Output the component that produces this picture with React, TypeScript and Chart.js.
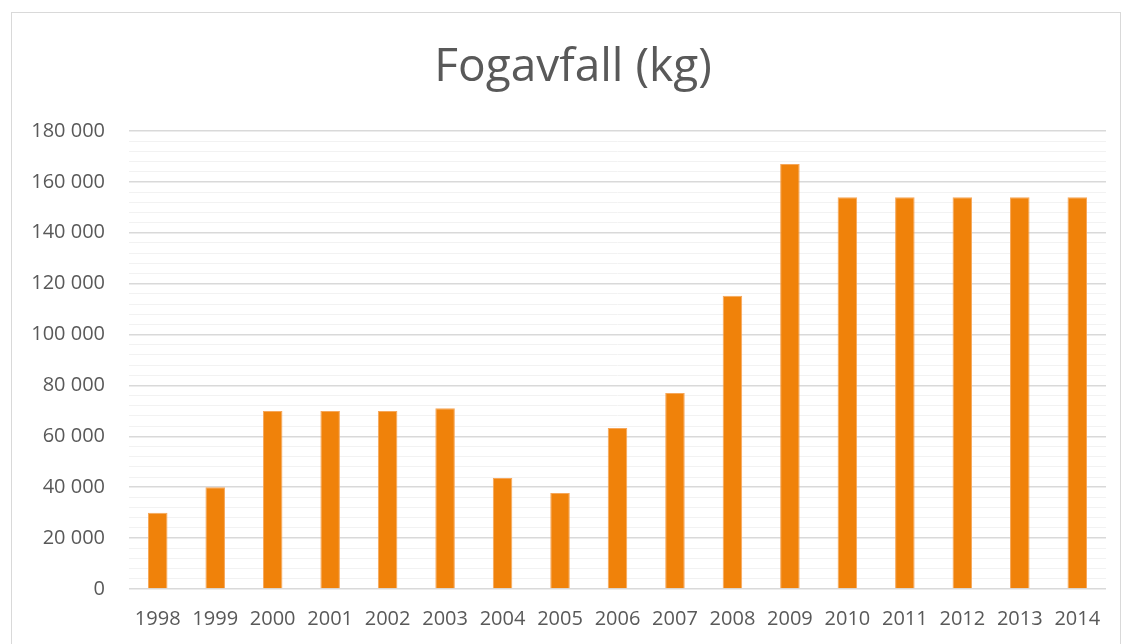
import React, { useEffect, useRef } from "react";
import { Chart, registerables } from "chart.js";

Chart.register(...registerables);

const years = ["1998","1999","2000","2001","2002","2003","2004","2005","2006","2007","2008","2009","2010","2011","2012","2013","2014"];
const values = [30000, 40000, 70000, 70000, 70000, 71000, 43600, 37700, 63300, 77000, 115300, 167000, 154000, 154000, 154000, 154000, 154000];
const titleText = "Fogavfall (kg)";
const yMax = 180000;
const majorStep = 20000;
const minorStep = 4000;

const fmt = (v: number) => String(v).replace(/\B(?=(\d{3})+(?!\d))/g, " ");

const titlePlugin = {
  id: "offsetTitle",
  afterDraw(chart: any) {
    const ctx = chart.ctx;
    ctx.save();
    ctx.fillStyle = "#595959";
    ctx.font = "normal 46px 'Open Sans'";
    ctx.textAlign = "center";
    ctx.textBaseline = "middle";
    ctx.fillText(titleText, 573, 68);
    ctx.restore();
  },
};

export default function App() {
  const ref = useRef<HTMLCanvasElement | null>(null);
  useEffect(() => {
    if (!ref.current) return;
    const chart = new Chart(ref.current, {
      type: "bar",
      data: {
        labels: years,
        datasets: [
          {
            data: values,
            backgroundColor: "#F0820A",
            borderColor: "#F6A75A",
            borderWidth: 1,
            barPercentage: 0.34,
            categoryPercentage: 1,
          },
        ],
      },
      options: {
        responsive: false,
        animation: false,
        devicePixelRatio: 1,
        layout: { padding: { top: 131, left: 0, right: 17, bottom: 13 } },
        plugins: {
          legend: { display: false },
          tooltip: { enabled: false },
          title: { display: false },
        },
        scales: {
          x: {
            grid: { display: false, drawTicks: false },
            border: { display: false },
            afterFit: (scale: any) => {
              scale.height = 42;
            },
            ticks: {
              color: "#595959",
              font: { family: "'Open Sans'", size: 20 },
              padding: 18,
              maxRotation: 0,
              autoSkip: false,
            },
          },
          y: {
            min: 0,
            max: yMax,
            border: { display: false },
            afterFit: (scale: any) => {
              scale.width = 129;
            },
            grid: {
              drawTicks: false,
              color: (ctx: any) =>
                ctx.tick && ctx.tick.value % majorStep === 0 ? "#d9d9d9" : "#f2f2f2",
              lineWidth: (ctx: any) =>
                ctx.tick && ctx.tick.value % majorStep === 0 ? 1.5 : 1,
            },
            ticks: {
              stepSize: minorStep,
              autoSkip: false,
              color: "#595959",
              font: { family: "'Open Sans'", size: 20 },
              padding: 24,
              callback: (v: any) => (Number(v) % majorStep === 0 ? fmt(Number(v)) : ""),
            },
          },
        },
      },
      plugins: [titlePlugin],
    });
    return () => chart.destroy();
  }, []);

  return (
    <div style={{ position: "fixed", left: 0, top: 0, width: 1123, height: 644, overflow: "hidden", background: "#fff" }}>
      <canvas ref={ref} width={1123} height={644} style={{ position: "absolute", left: 0, top: 0, width: 1123, height: 644 }} />
      <div style={{ position: "absolute", left: 11, top: 12, width: 1108, height: 700, border: "1px solid #d9d9d9", pointerEvents: "none" }} />
    </div>
  );
}
